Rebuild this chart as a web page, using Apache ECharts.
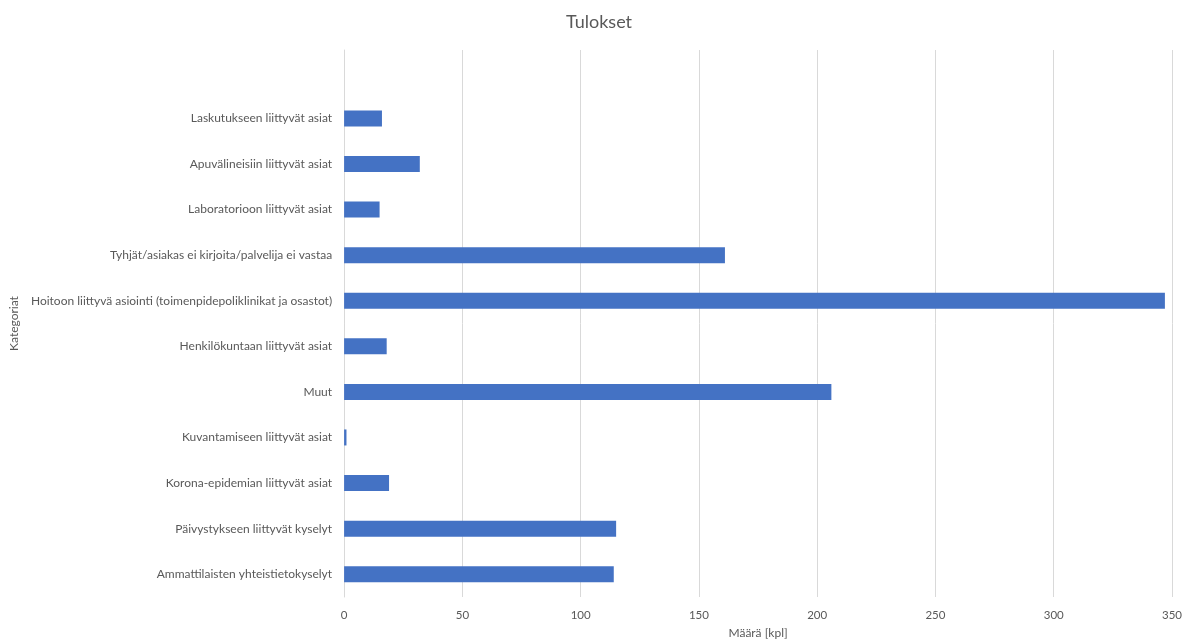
<!DOCTYPE html>
<html>
<head>
<meta charset="utf-8">
<script src="https://cdn.jsdelivr.net/npm/echarts@6/dist/echarts.min.js"></script>
<style>
html,body{margin:0;padding:0;background:#fff;}
#chart{width:1198px;height:644px;}
</style>
</head>
<body>
<div id="chart"></div>
<script>
// Categories from top to bottom (first entry is an empty category in the source)
const categories = [
  "",
  "Laskutukseen liittyvät asiat",
  "Apuvälineisiin liittyvät asiat",
  "Laboratorioon liittyvät asiat",
  "Tyhjät/asiakas ei kirjoita/palvelija ei vastaa",
  "Hoitoon liittyvä asiointi (toimenpidepoliklinikat ja osastot)",
  "Henkilökuntaan liittyvät asiat",
  "Muut",
  "Kuvantamiseen liittyvät asiat",
  "Korona-epidemian liittyvät asiat",
  "Päivystykseen liittyvät kyselyt",
  "Ammattilaisten yhteistietokyselyt"
];
const values = [null, 16, 32, 15, 161, 347, 18, 206, 1, 19, 115, 114];
const titleText = "Tulokset";
const xAxisName = "Määrä [kpl]";
const yAxisName = "Kategoriat";

const FONT = "Lato, 'Noto Sans', sans-serif";
const chart = echarts.init(document.getElementById('chart'), null, {renderer: 'canvas'});
chart.setOption({
  animation: false,
  backgroundColor: '#ffffff',
  title: {
    text: titleText,
    left: 'center',
    top: 8,
    textStyle: {fontFamily: FONT, fontSize: 18, fontWeight: 'normal', color: '#595959'}
  },
  grid: {left: 343, right: 26, top: 50, bottom: 38, containLabel: false},
  xAxis: {
    type: 'value',
    min: 0, max: 350, interval: 50,
    name: xAxisName,
    nameLocation: 'middle',
    nameGap: 30,
    nameTextStyle: {fontFamily: FONT, fontSize: 12, color: '#595959'},
    axisLine: {show: false},
    axisTick: {show: false},
    axisLabel: {fontFamily: FONT, fontSize: 11.5, color: '#595959', margin: 12},
    splitLine: {show: true, lineStyle: {color: '#d9d9d9', width: 1}}
  },
  yAxis: {
    type: 'category',
    data: categories,
    inverse: true,
    name: yAxisName,
    nameLocation: 'middle',
    nameGap: 317,
    nameRotate: 90,
    nameTextStyle: {fontFamily: FONT, fontSize: 12, color: '#595959'},
    axisLine: {show: true, lineStyle: {color: '#d9d9d9', width: 1}},
    axisTick: {show: false},
    axisLabel: {fontFamily: FONT, fontSize: 12, color: '#595959', margin: 12},
    splitLine: {show: false}
  },
  series: [{
    type: 'bar',
    data: values,
    barWidth: 16,
    itemStyle: {color: '#4472C4'}
  }]
});
</script>
</body>
</html>
